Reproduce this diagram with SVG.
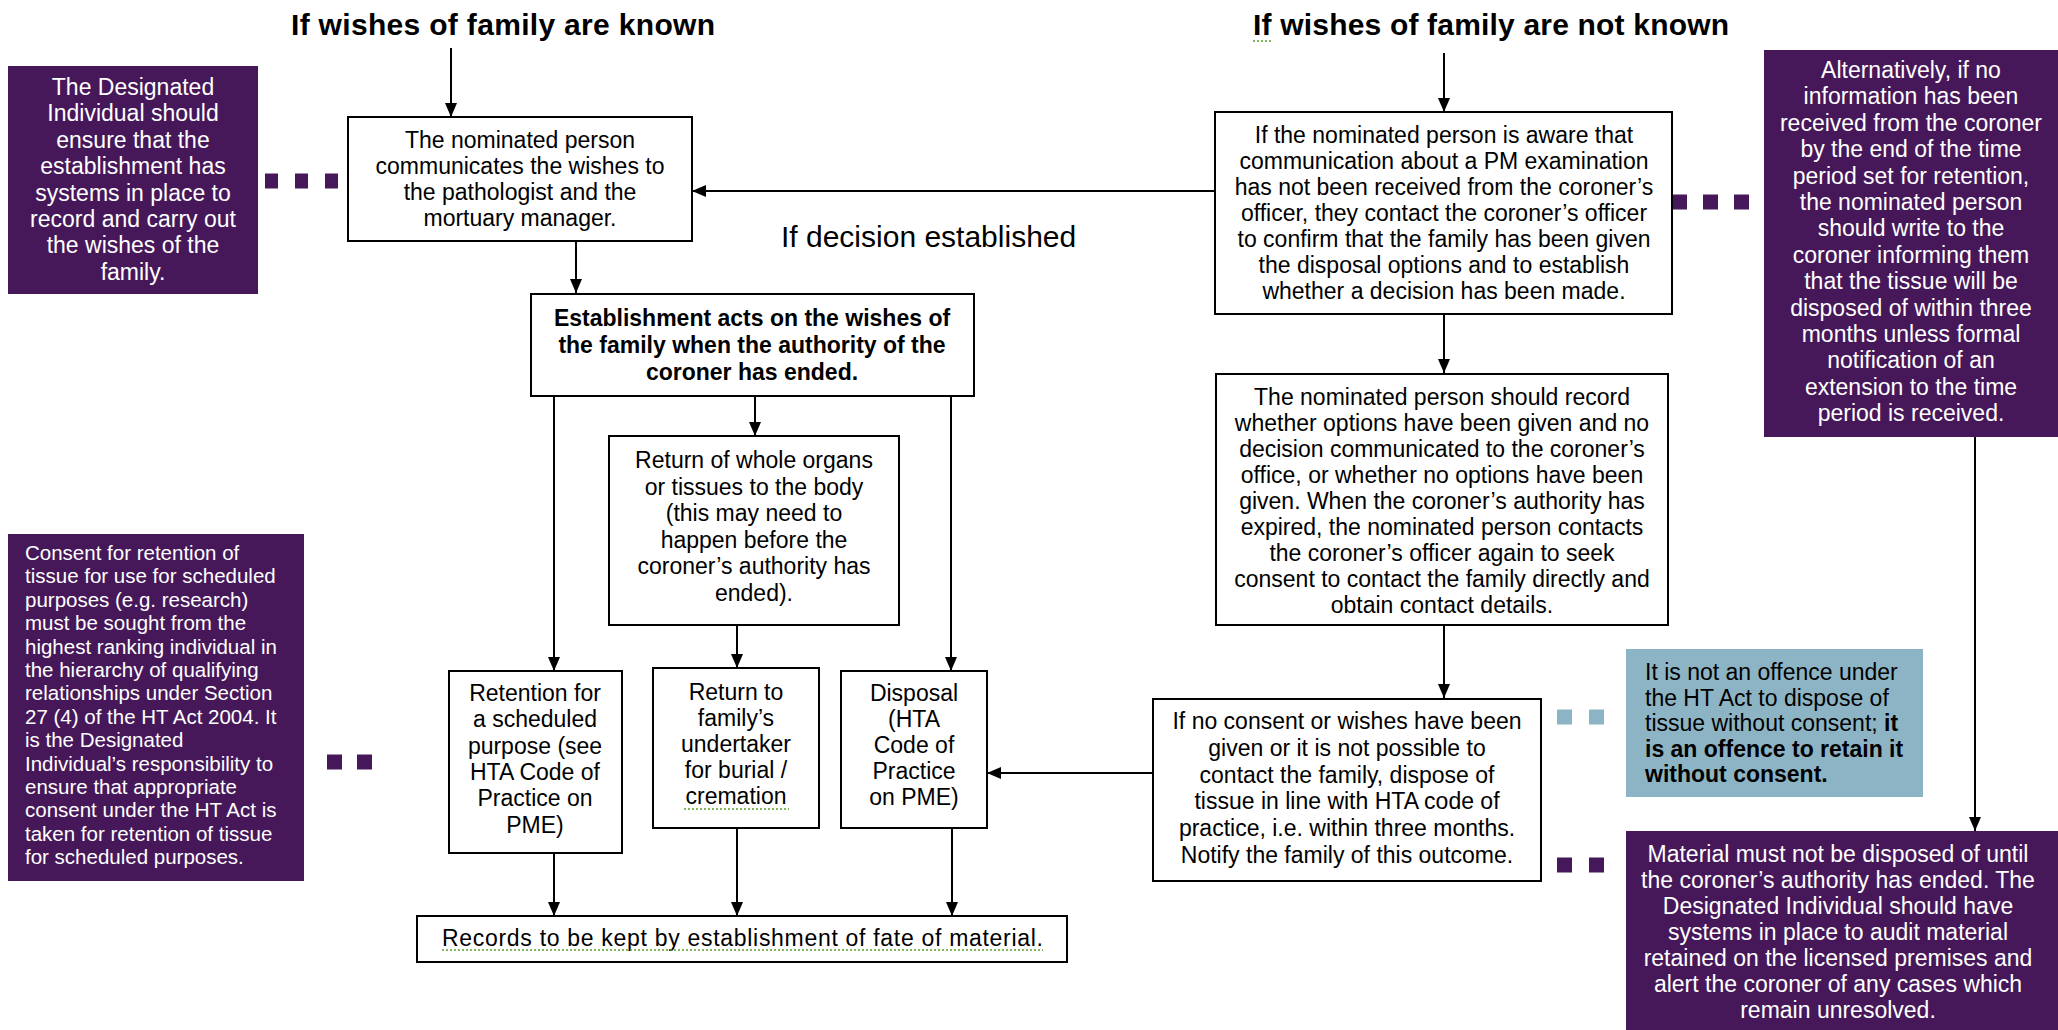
<svg xmlns="http://www.w3.org/2000/svg" width="2058" height="1030" viewBox="0 0 2058 1030">
<style>
.bg{fill:#fff}
.box{fill:#fff;stroke:#000;stroke-width:2}
.pbox{fill:#46185a}
.tbox{fill:#8db4c4}
text{font-family:"Liberation Sans",Arial,sans-serif;font-size:23px;fill:#000;text-anchor:middle}
.w{fill:#fff}
.b{font-weight:bold}
.l{text-anchor:start}
.title{font-size:30px;font-weight:bold;text-anchor:start}
.lab{font-size:30px;text-anchor:start}
.sm{font-size:20.5px}
.conn{stroke:#000;stroke-width:2;fill:none}
.dp{stroke:#46185a;stroke-width:15;fill:none}
.dt{stroke:#8db4c4;stroke-width:15;fill:none}
.sq{stroke:#5aa02c;stroke-width:1.5;stroke-dasharray:2 2;fill:none}
</style>
<defs>
<marker id="ah" markerUnits="userSpaceOnUse" markerWidth="14" markerHeight="12" viewBox="0 0 14 12" refX="14" refY="6" orient="auto">
<path d="M0,0 L14,6 L0,12 z" fill="#000"/>
</marker>
</defs>
<rect class="bg" x="0" y="0" width="2058" height="1030"/>

<g id="title-known">
<text class="title" x="291" y="35" textLength="424" lengthAdjust="spacing">If wishes of family are known</text>
</g>
<g id="title-not-known">
<text class="title" x="1253" y="35" textLength="476" lengthAdjust="spacing">If wishes of family are not known</text>
<path class="sq" d="M1253,41 H1273"/>
</g>
<g id="label-decision">
<text class="lab" x="781" y="247">If decision established</text>
</g>

<g id="connectors">
<path class="conn" marker-end="url(#ah)" d="M451,48 V117"/>
<path class="conn" marker-end="url(#ah)" d="M1444,53 V112"/>
<path class="conn" marker-end="url(#ah)" d="M1215,191 H692"/>
<path class="conn" marker-end="url(#ah)" d="M576,241 V293"/>
<path class="conn" marker-end="url(#ah)" d="M1444,314 V373"/>
<path class="conn" marker-end="url(#ah)" d="M1444,625 V698"/>
<path class="conn" marker-end="url(#ah)" d="M1152,773 H987"/>
<path class="conn" marker-end="url(#ah)" d="M1975,437 V831"/>
<path class="conn" marker-end="url(#ah)" d="M554,396 V671"/>
<path class="conn" marker-end="url(#ah)" d="M755,396 V436"/>
<path class="conn" marker-end="url(#ah)" d="M951,396 V671"/>
<path class="conn" marker-end="url(#ah)" d="M737,625 V668"/>
<path class="conn" marker-end="url(#ah)" d="M554,853 V916"/>
<path class="conn" marker-end="url(#ah)" d="M737,828 V916"/>
<path class="conn" marker-end="url(#ah)" d="M952,828 V916"/>
<path class="dp" stroke-dasharray="13 17" d="M265,181 H340"/>
<path class="dp" stroke-dasharray="15 16" d="M1672,202 H1750"/>
<path class="dp" stroke-dasharray="15 15" d="M327,762 H373"/>
<path class="dt" stroke-dasharray="15 17" d="M1557,717 H1604"/>
<path class="dp" stroke-dasharray="15 17" d="M1557,865 H1604"/>
</g>

<g id="note-designated">
<rect class="pbox" x="8" y="66" width="250" height="228"/>
<text class="w" x="133" y="95">The Designated</text>
<text class="w" x="133" y="121.4">Individual should</text>
<text class="w" x="133" y="147.8">ensure that the</text>
<text class="w" x="133" y="174.2">establishment has</text>
<text class="w" x="133" y="200.6">systems in place to</text>
<text class="w" x="133" y="227">record and carry out</text>
<text class="w" x="133" y="253.4">the wishes of the</text>
<text class="w" x="133" y="279.8">family.</text>
</g>

<g id="node-communicates">
<rect class="box" x="348" y="117" width="344" height="124"/>
<text x="520" y="148">The nominated person</text>
<text x="520" y="174">communicates the wishes to</text>
<text x="520" y="200">the pathologist and the</text>
<text x="520" y="226">mortuary manager.</text>
</g>

<g id="node-aware">
<rect class="box" x="1215" y="112" width="457" height="202"/>
<text x="1444" y="143">If the nominated person is aware that</text>
<text x="1444" y="169">communication about a PM examination</text>
<text x="1444" y="195">has not been received from the coroner’s</text>
<text x="1444" y="221">officer, they contact the coroner’s officer</text>
<text x="1444" y="247">to confirm that the family has been given</text>
<text x="1444" y="273">the disposal options and to establish</text>
<text x="1444" y="299">whether a decision has been made.</text>
</g>

<g id="note-alternatively">
<rect class="pbox" x="1764" y="50" width="294" height="387"/>
<text class="w" x="1911" y="78">Alternatively, if no</text>
<text class="w" x="1911" y="104.4">information has been</text>
<text class="w" x="1911" y="130.8">received from the coroner</text>
<text class="w" x="1911" y="157.2">by the end of the time</text>
<text class="w" x="1911" y="183.6">period set for retention,</text>
<text class="w" x="1911" y="210">the  nominated person</text>
<text class="w" x="1911" y="236.4">should write to the</text>
<text class="w" x="1911" y="262.8">coroner informing them</text>
<text class="w" x="1911" y="289.2">that the tissue will be</text>
<text class="w" x="1911" y="315.6">disposed of within three</text>
<text class="w" x="1911" y="342">months unless formal</text>
<text class="w" x="1911" y="368.4">notification of an</text>
<text class="w" x="1911" y="394.8">extension to the time</text>
<text class="w" x="1911" y="421.2">period is received.</text>
</g>

<g id="node-establishment">
<rect class="box" x="531" y="294" width="443" height="102"/>
<text class="b" x="752" y="326">Establishment acts on the wishes of</text>
<text class="b" x="752" y="353">the family when the authority of the</text>
<text class="b" x="752" y="380">coroner has ended.</text>
</g>

<g id="node-return-organs">
<rect class="box" x="609" y="436" width="290" height="189"/>
<text x="754" y="468">Return of whole organs</text>
<text x="754" y="494.5">or tissues to the body</text>
<text x="754" y="521">(this may need to</text>
<text x="754" y="547.5">happen before the</text>
<text x="754" y="574">coroner’s authority has</text>
<text x="754" y="600.5">ended).</text>
</g>

<g id="node-record">
<rect class="box" x="1216" y="374" width="452" height="251"/>
<text x="1442" y="405">The nominated person should record</text>
<text x="1442" y="431">whether options have been given and no</text>
<text x="1442" y="457">decision communicated to the coroner’s</text>
<text x="1442" y="483">office, or whether no options have been</text>
<text x="1442" y="509">given. When the coroner’s authority has</text>
<text x="1442" y="535">expired, the nominated person contacts</text>
<text x="1442" y="561">the coroner’s officer again to seek</text>
<text x="1442" y="587">consent to  contact the family directly and</text>
<text x="1442" y="613">obtain contact details.</text>
</g>

<g id="node-no-consent">
<rect class="box" x="1153" y="699" width="388" height="182"/>
<text x="1347" y="729">If no consent or wishes have been</text>
<text x="1347" y="755.8">given or it is not possible to</text>
<text x="1347" y="782.6">contact the family, dispose of</text>
<text x="1347" y="809.4">tissue in line with HTA code of</text>
<text x="1347" y="836.2">practice, i.e. within three months.</text>
<text x="1347" y="863">Notify the family of this outcome.</text>
</g>

<g id="note-offence">
<rect class="tbox" x="1626" y="649" width="297" height="148"/>
<text class="l" x="1645" y="680">It is not an offence under</text>
<text class="l" x="1645" y="705.5">the HT Act to dispose of</text>
<text class="l" x="1645" y="731">tissue without consent; <tspan class="b">it</tspan></text>
<text class="l b" x="1645" y="756.5">is an offence to retain it</text>
<text class="l b" x="1645" y="782">without consent.</text>
</g>

<g id="note-material">
<rect class="pbox" x="1626" y="831" width="432" height="199"/>
<text class="w" x="1838" y="862">Material must not be disposed of until</text>
<text class="w" x="1838" y="888">the coroner’s authority has ended. The</text>
<text class="w" x="1838" y="914">Designated Individual should have</text>
<text class="w" x="1838" y="940">systems in place to audit material</text>
<text class="w" x="1838" y="966">retained on the licensed premises and</text>
<text class="w" x="1838" y="992">alert the coroner of any cases which</text>
<text class="w" x="1838" y="1018">remain unresolved.</text>
</g>

<g id="note-consent">
<rect class="pbox" x="8" y="534" width="296" height="347"/>
<text class="w l sm" x="25" y="560">Consent for retention of</text>
<text class="w l sm" x="25" y="583.4">tissue for use for scheduled</text>
<text class="w l sm" x="25" y="606.8">purposes (e.g. research)</text>
<text class="w l sm" x="25" y="630.2">must be sought from the</text>
<text class="w l sm" x="25" y="653.6">highest ranking individual in</text>
<text class="w l sm" x="25" y="677">the hierarchy of qualifying</text>
<text class="w l sm" x="25" y="700.4">relationships under Section</text>
<text class="w l sm" x="25" y="723.8">27 (4) of the HT Act 2004. It</text>
<text class="w l sm" x="25" y="747.2">is the Designated</text>
<text class="w l sm" x="25" y="770.6">Individual’s responsibility to</text>
<text class="w l sm" x="25" y="794">ensure that appropriate</text>
<text class="w l sm" x="25" y="817.4">consent under the HT Act is</text>
<text class="w l sm" x="25" y="840.8">taken for retention of tissue</text>
<text class="w l sm" x="25" y="864.2">for scheduled purposes.</text>
</g>

<g id="node-retention">
<rect class="box" x="449" y="671" width="173" height="182"/>
<text x="535" y="701">Retention for</text>
<text x="535" y="727.3">a scheduled</text>
<text x="535" y="753.6">purpose (see</text>
<text x="535" y="779.9">HTA Code of</text>
<text x="535" y="806.2">Practice on</text>
<text x="535" y="832.5">PME)</text>
</g>

<g id="node-undertaker">
<rect class="box" x="653" y="668" width="166" height="160"/>
<text x="736" y="700">Return to</text>
<text x="736" y="726">family’s</text>
<text x="736" y="752">undertaker</text>
<text x="736" y="778">for burial /</text>
<text x="736" y="804">cremation</text>
<path class="sq" d="M684,809 H789"/>
</g>

<g id="node-disposal">
<rect class="box" x="841" y="671" width="146" height="157"/>
<text x="914" y="701">Disposal</text>
<text x="914" y="727">(HTA</text>
<text x="914" y="753">Code of</text>
<text x="914" y="779">Practice</text>
<text x="914" y="805">on PME)</text>
</g>

<g id="node-records">
<rect class="box" x="417" y="916" width="650" height="46"/>
<text class="l" x="442" y="946" textLength="601" lengthAdjust="spacing">Records to be kept by establishment of fate of material.</text>
<path class="sq" d="M442,950 H1043"/>
</g>
</svg>
